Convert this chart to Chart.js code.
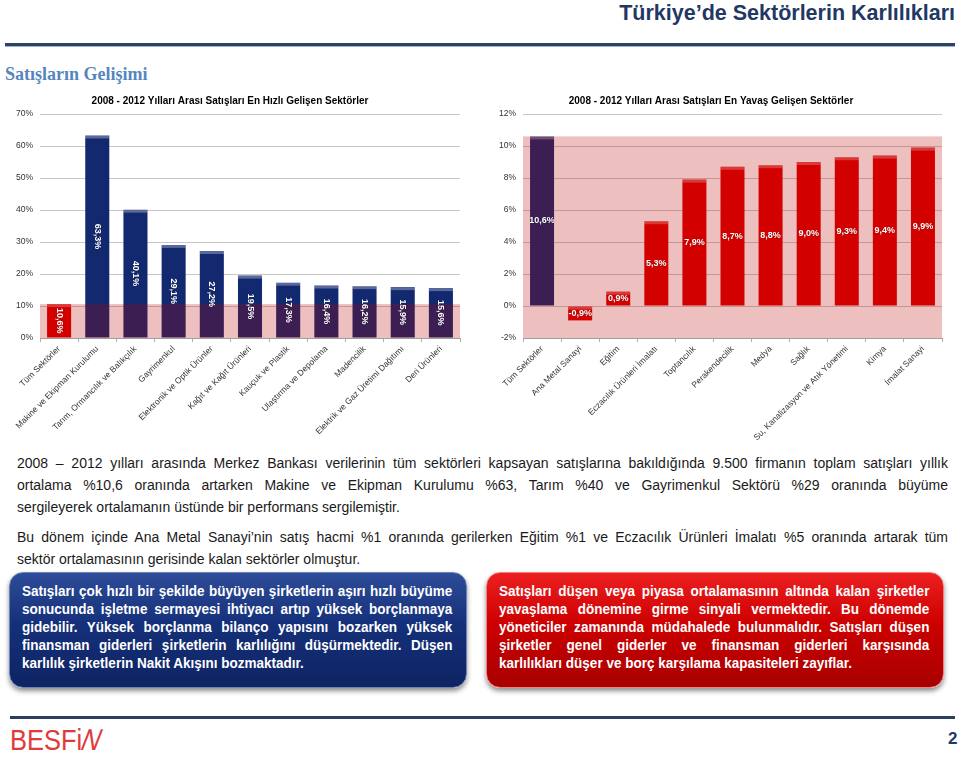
<!DOCTYPE html>
<html>
<head>
<meta charset="utf-8">
<script src="https://cdn.jsdelivr.net/npm/chart.js@4.4.1/dist/chart.umd.min.js"></script>
<style>
  body { margin: 0; width: 960px; height: 759px; background: #fff; font-family: "Liberation Sans", Arial, sans-serif; position: relative; overflow: hidden; }
  .abs { position: absolute; }
  #header { right: 5px; top: 1px; font-weight: bold; font-size: 21.5px; color: #1f3864; }
  #rule1 { left: 5px; top: 43px; width: 950px; height: 3px; background: #2b4466; border-bottom: 1px solid #9fb3cc; }
  #subtitle { left: 5px; top: 64px; font-family: "Liberation Serif", "DejaVu Serif", serif; font-size: 18px; font-weight: bold; color: #5585c0; }
  .para { left: 17px; width: 931px; font-size: 14px; line-height: 22px; color: #1a1a1a; }
  .para div, .box div { text-align: justify; text-align-last: justify; white-space: nowrap; }
  .para div.last, .box div.last { text-align-last: left; }
  .box { top: 572px; width: 458px; height: 116px; border-radius: 14px; box-sizing: border-box; padding: 9px 0 0 12px;
         color: #fff; box-shadow: 0 3px 5px rgba(0,0,0,0.45); }
  .box .inner { width: 446px; transform: scaleX(0.965); transform-origin: 0 0; font-weight: bold; font-size: 14px; line-height: 18px; }
  #boxL { left: 9px; background: linear-gradient(#2e4c98, #15307a 45%, #0e2462); border: 1px solid #6d83b8; }
  #boxR { left: 486px; background: linear-gradient(#ec2020, #cc0000 45%, #a80000); border: 1px solid #f08080; }
  #rule2 { left: 10px; top: 716px; width: 945px; height: 3px; background: #2b3f5e; }
  #logo { left: 10px; top: 723px; font-size: 30px; color: #e03a3a; transform: scaleX(0.85); transform-origin: 0 0; }
  #logo i { display: inline-block; font-style: italic; transform: skewX(-15deg); }
  #page { left: 948px; top: 729px; font-weight: bold; font-size: 17px; color: #1f3864; }
</style>
</head>
<body>
<div id="header" class="abs">Türkiye’de Sektörlerin Karlılıkları</div>
<div id="rule1" class="abs"></div>
<div id="subtitle" class="abs">Satışların Gelişimi</div>

<div class="abs" style="left:0;top:92px;width:470px;height:348px"><canvas id="fastChart"></canvas></div>
<div class="abs" style="left:480px;top:92px;width:480px;height:348px"><canvas id="slowChart"></canvas></div>

<div class="abs para" style="top:452px">
  <div>2008 – 2012 yılları arasında Merkez Bankası verilerinin tüm sektörleri kapsayan satışlarına bakıldığında 9.500 firmanın toplam satışları yıllık</div>
  <div>ortalama %10,6 oranında artarken Makine ve Ekipman Kurulumu %63, Tarım %40 ve Gayrimenkul Sektörü %29 oranında büyüme</div>
  <div class="last">sergileyerek ortalamanın üstünde bir performans sergilemiştir.</div>
</div>
<div class="abs para" style="top:526px">
  <div>Bu dönem içinde Ana Metal Sanayi’nin satış hacmi %1 oranında gerilerken Eğitim %1 ve Eczacılık Ürünleri İmalatı %5 oranında artarak tüm</div>
  <div class="last">sektör ortalamasının gerisinde kalan sektörler olmuştur.</div>
</div>

<div id="boxL" class="abs box"><div class="inner">
  <div>Satışları çok hızlı bir şekilde büyüyen şirketlerin aşırı hızlı büyüme</div>
  <div>sonucunda işletme sermayesi ihtiyacı artıp yüksek borçlanmaya</div>
  <div>gidebilir. Yüksek borçlanma bilanço yapısını bozarken yüksek</div>
  <div>finansman giderleri şirketlerin karlılığını düşürmektedir. Düşen</div>
  <div class="last">karlılık şirketlerin Nakit Akışını bozmaktadır.</div>
</div></div>
<div id="boxR" class="abs box"><div class="inner">
  <div>Satışları düşen veya piyasa ortalamasının altında kalan şirketler</div>
  <div>yavaşlama dönemine girme sinyali vermektedir. Bu dönemde</div>
  <div>yöneticiler zamanında müdahalede bulunmalıdır. Satışları düşen</div>
  <div>şirketler genel giderler ve finansman giderleri karşısında</div>
  <div class="last">karlılıkları düşer ve borç karşılama kapasiteleri zayıflar.</div>
</div></div>

<div id="rule2" class="abs"></div>
<div id="logo" class="abs">BESFi<i>N</i></div>
<div id="page" class="abs">2</div>

<script>
// chart data
const fastTitle = '2008 - 2012 Yılları Arası Satışları En Hızlı Gelişen Sektörler';
const fastLabels = ['Tüm Sektörler', 'Makine ve Ekipman Kurulumu', 'Tarım, Ormancılık ve Balıkçılık', 'Gayrimenkul',
    'Elektronik ve Optik Ürünler', 'Kağıt ve Kağıt Ürünleri', 'Kauçuk ve Plastik', 'Ulaştırma ve Depolama',
    'Madencilik', 'Elektrik ve Gaz Üretimi Dağıtımı', 'Deri Ürünleri'];
const fastValues = [10.6, 63.3, 40.1, 29.1, 27.2, 19.5, 17.3, 16.4, 16.2, 15.9, 15.6];

const slowTitle = '2008 - 2012 Yılları Arası Satışları En Yavaş Gelişen Sektörler';
const slowLabels = ['Tüm Sektörler', 'Ana Metal Sanayi', 'Eğitim', 'Eczacılık Ürünleri İmalatı', 'Toptancılık',
    'Perakendecilik', 'Medya', 'Sağlık', 'Su, Kanalizasyon ve Atık Yönetimi', 'Kimya', 'İmalat Sanayi'];
const slowValues = [10.6, -0.9, 0.9, 5.3, 7.9, 8.7, 8.8, 9.0, 9.3, 9.4, 9.9];

const averageValue = 10.6;   // the "Tüm Sektörler" line shaded on both charts

const NAVY = '#13296f';
const RED = '#dc0000';

function fmt(v) {
    return v.toFixed(1).replace('.', ',') + '%';
}

// light strip on top of each bar (the glossy edge in the original)
const barShine = {
    id: 'barShine',
    afterDatasetsDraw(chart) {
        const ctx = chart.ctx;
        chart.getDatasetMeta(0).data.forEach(bar => {
            const top = Math.min(bar.y, bar.base);
            ctx.save();
            ctx.fillStyle = 'rgba(255,255,255,0.3)';
            ctx.fillRect(bar.x - bar.width / 2, top, bar.width, 3);
            ctx.restore();
        });
    }
};

// pink band for the range up to the average, laid over the bars
const bandPlugin = {
    id: 'band',
    afterDatasetsDraw(chart, args, opts) {
        const ctx = chart.ctx;
        const area = chart.chartArea;
        const y = chart.scales.y;
        const top = y.getPixelForValue(opts.to);
        const bottom = y.getPixelForValue(opts.from);
        ctx.save();
        ctx.fillStyle = 'rgba(184,0,0,0.25)';
        ctx.fillRect(area.left, top, area.right - area.left, bottom - top);
        ctx.restore();
    }
};

// value labels in the middle of each bar
const valueLabels = {
    id: 'valueLabels',
    afterDatasetsDraw(chart, args, opts) {
        const ctx = chart.ctx;
        const values = chart.data.datasets[0].data;
        chart.getDatasetMeta(0).data.forEach((bar, i) => {
            const cy = (bar.y + bar.base) / 2;
            ctx.save();
            ctx.font = 'bold 9px "Liberation Sans", Arial';
            ctx.fillStyle = '#fff';
            ctx.textAlign = 'center';
            ctx.textBaseline = 'middle';
            ctx.shadowColor = 'rgba(0,0,0,0.5)';
            ctx.shadowBlur = 1;
            ctx.translate(bar.x, cy);
            if (opts.rotate) ctx.rotate(Math.PI / 2);
            ctx.fillText(fmt(values[i]), 0, 0);
            ctx.restore();
        });
    }
};

function makeChart(id, title, labels, values, colors, yMin, yMax, step, axisWidth, bandFrom, rotateLabels, padRight) {
    const ctx = document.getElementById(id).getContext('2d');
    return new Chart(ctx, {
        type: 'bar',
        data: {
            labels: labels,
            datasets: [{
                data: values,
                backgroundColor: colors,
                borderWidth: 0,
                barPercentage: 0.63,
                categoryPercentage: 1.0
            }]
        },
        plugins: [barShine, bandPlugin, valueLabels],
        options: {
            responsive: true,
            maintainAspectRatio: false,
            animation: false,
            layout: { padding: { left: 0, right: padRight, top: 0, bottom: 0 } },
            plugins: {
                legend: { display: false },
                tooltip: { enabled: false },
                title: {
                    display: true,
                    text: title,
                    color: '#000',
                    font: { family: '"Liberation Sans", Arial', size: 10, weight: 'bold' },
                    padding: { top: 3, bottom: 7 }
                },
                band: { from: bandFrom, to: averageValue },
                valueLabels: { rotate: rotateLabels }
            },
            scales: {
                x: {
                    grid: { display: true, drawOnChartArea: false, drawTicks: true, tickLength: 4, color: '#b0b0b0', offset: true },
                    border: { display: true, color: '#a0a0a0' },
                    ticks: {
                        color: '#333',
                        font: { family: '"Liberation Sans", Arial', size: 8.5 },
                        minRotation: 45, maxRotation: 45, autoSkip: false, padding: 2
                    },
                    afterFit(scale) { scale.height = 102; }
                },
                y: {
                    min: yMin, max: yMax,
                    grid: { color: '#c8c8c8', drawTicks: false },
                    border: { display: false },
                    ticks: {
                        stepSize: step,
                        color: '#333',
                        padding: 7,
                        font: { family: '"Liberation Sans", Arial', size: 8.5 },
                        callback: v => v + '%'
                    },
                    afterFit(scale) { scale.width = axisWidth; }
                }
            }
        }
    });
}

const fastColors = fastValues.map((v, i) => i === 0 ? RED : NAVY);
const slowColors = slowValues.map((v, i) => i === 0 ? NAVY : RED);

makeChart('fastChart', fastTitle, fastLabels, fastValues, fastColors, 0, 70, 10, 40, 0, true, 10);
makeChart('slowChart', slowTitle, slowLabels, slowValues, slowColors, -2, 12, 2, 43, -2, false, 18);
</script>
</body>
</html>
